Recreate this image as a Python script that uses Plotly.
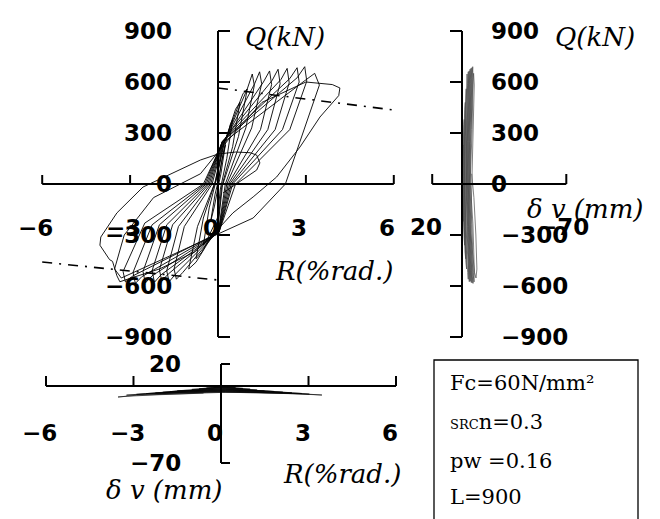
import plotly.graph_objects as go

# ---------------------------------------------------------------------------
# Loading history: drift angle R (%rad.), shear force Q (kN), axial deformation dv (mm)
# ---------------------------------------------------------------------------
R_pct = [
    0.00,
    # +-0.25
    0.12, 0.25, 0.10, 0.00, -0.12, -0.25, -0.10, 0.00,
    # +-0.5
    0.20, 0.42, 0.50, 0.30, 0.08, -0.02, -0.35, -0.50, -0.30, -0.05,
    # +-0.75
    0.20, 0.60, 0.75, 0.50, 0.12, 0.00, -0.55, -0.75, -0.50, -0.08,
    # +-1.0
    0.20, 0.85, 1.00, 0.70, 0.15, 0.00, -0.75, -1.00, -0.70, -0.10,
    # cycle 5
    0.15, 1.00, 1.17, 1.24, 0.95, 0.25, 0.02, -1.20, -1.42, -1.50, -1.15, -0.20,
    # cycle 6
    0.15, 1.25, 1.42, 1.49, 1.15, 0.30, 0.02, -1.45, -1.67, -1.75, -1.35, -0.25,
    # cycle 7
    0.15, 1.55, 1.76, 1.83, 1.45, 0.35, 0.02, -1.70, -1.92, -2.00, -1.55, -0.30,
    # cycle 8
    0.15, 1.85, 2.05, 2.12, 1.70, 0.40, 0.02, -1.95, -2.17, -2.25, -1.75, -0.35,
    # cycle 9
    0.15, 2.15, 2.36, 2.43, 1.95, 0.45, 0.03, -2.25, -2.48, -2.56, -2.00, -0.40,
    # cycle 10
    0.15, 2.45, 2.70, 2.77, 2.20, 0.50, 0.03, -2.60, -2.82, -2.90, -2.25, -0.45,
    # cycle 11
    0.15, 2.70, 2.96, 3.03, 2.45, 0.60, 0.03, -2.90, -3.16, -3.24, -2.50, -0.50,
    # cycle 12
    0.15, 2.90, 3.30, 3.46, 3.20, 2.30, 1.20, 0.05, -2.90, -3.30, -3.53, -3.20, -2.20, -0.60,
    # cycle 13 (large excursion)
    0.20, 1.50, 3.00, 3.45, 3.90, 4.16, 4.12, 3.48, 2.80, 2.00, 1.20, 0.51, 0.07,
    -0.80, -2.00, -3.00, -3.35, -3.45, -3.60, -3.70, -4.03,
    # final reloading
    -4.00, -3.45, -2.56, -1.54, -0.60, 0.00, 0.60, 1.10, 1.32, 1.43, 1.32, 0.17,
]

Q_kN = [
    0,
    130, 230, 60, -20, -130, -220, -60, 10,
    200, 350, 380, 150, -30, -200, -320, -360, -140, 30,
    230, 440, 480, 220, -20, -230, -400, -440, -200, 20,
    240, 530, 560, 280, -10, -250, -460, -500, -250, 10,
    220, 560, 647, 580, 330, 0, -270, -520, -560, -500, -250, 0,
    230, 590, 660, 590, 330, 0, -275, -530, -575, -510, -250, 0,
    240, 600, 665, 585, 320, 0, -280, -530, -570, -505, -240, 0,
    250, 610, 675, 590, 320, 0, -285, -535, -578, -510, -240, 0,
    250, 615, 680, 595, 320, 0, -285, -540, -582, -515, -240, 0,
    250, 620, 684, 600, 320, 0, -285, -545, -585, -520, -240, 0,
    250, 625, 690, 605, 320, 0, -285, -540, -576, -515, -230, 0,
    240, 600, 651, 582, 450, 0, -200, -290, -520, -553, -500, -300, -80, 60,
    230, 480, 600, 592, 585, 565, 520, 394, 218, 41, -76, -170, -253,
    -400, -500, -555, -575, -540, -455, -445, -360,
    -312, -170, -18, 65, 141, 176, 188, 184, 170, 124, 82, -53,
]

# axial deformation, recorded up to the end of cycle 12
dv_mm = [
    0.0,
    -0.4, -0.8, -0.6, -0.5, -0.6, -0.9, -0.7, -0.6,
    -0.8, -1.2, -1.5, -1.2, -1.0, -1.0, -1.4, -1.8, -1.4, -1.1,
    -1.2, -1.8, -2.2, -1.8, -1.4, -1.4, -2.0, -2.5, -2.0, -1.5,
    -1.6, -2.4, -2.8, -2.3, -1.8, -1.8, -2.6, -3.1, -2.5, -1.9,
    -2.0, -3.0, -3.4, -3.6, -3.1, -2.3, -2.2, -3.8, -4.2, -4.4, -3.8, -2.6,
    -2.6, -3.8, -4.2, -4.4, -3.8, -2.9, -2.8, -4.5, -4.9, -5.1, -4.4, -3.1,
    -3.1, -4.4, -4.8, -5.0, -4.4, -3.4, -3.3, -5.0, -5.5, -5.7, -4.9, -3.6,
    -3.6, -5.0, -5.4, -5.6, -5.0, -3.9, -3.8, -5.6, -6.1, -6.3, -5.5, -4.1,
    -4.1, -5.6, -6.0, -6.2, -5.6, -4.4, -4.3, -6.2, -6.7, -6.9, -6.1, -4.6,
    -4.6, -6.2, -6.6, -6.8, -6.2, -4.9, -4.8, -6.9, -7.4, -7.6, -6.7, -5.1,
    -5.1, -6.8, -7.2, -7.4, -6.8, -5.4, -5.3, -7.6, -8.1, -8.3, -7.3, -5.6,
    -5.6, -7.3, -7.8, -8.2, -7.9, -6.8, -6.0, -5.8, -8.4, -9.4, -10.0, -9.3, -8.0, -6.5,
]

# reference strength lines (dash-dot)
REF_R = [0, 6, None, -6, 0]
REF_Q = [565, 435, None, -459, -565]

R_TICKS = [-6, -3, 0, 3, 6]
Q_TICKS = [900, 600, 300, 0, -300, -600, -900]
DV_ENDS = [20, -70]
SPEC_LINES = ["Fc=60N/mm²", "<span style='font-size:13px'>SRC</span>n=0.3",
              "pw =0.16", "L=900"]

# ---------------------------------------------------------------------------
W, H = 660, 519
PX_R = 29.3      # px per %rad (main)
PX_R3 = 29.17    # px per %rad (bottom)
PX_Q = 0.17      # px per kN
PX_DV2 = 1.49    # px per mm (right)
PX_DV3 = 1.10    # px per mm (bottom)

n_dv = len(dv_mm)

fig = go.Figure()
# main hysteresis Q-R
fig.add_trace(go.Scatter(x=R_pct, y=Q_kN, mode="lines", xaxis="x", yaxis="y",
                         line=dict(color="black", width=0.9), hoverinfo="skip"))
fig.add_trace(go.Scatter(x=REF_R, y=REF_Q, mode="lines", xaxis="x", yaxis="y",
                         line=dict(color="black", width=1.6, dash="10px,7px,2px,7px"),
                         hoverinfo="skip"))
# Q-dv
fig.add_trace(go.Scatter(x=dv_mm, y=Q_kN[:n_dv], mode="lines", xaxis="x2", yaxis="y2",
                         line=dict(color="#4a4a4a", width=0.7), hoverinfo="skip"))
# dv-R
fig.add_trace(go.Scatter(x=R_pct[:n_dv], y=dv_mm, mode="lines", xaxis="x3", yaxis="y3",
                         line=dict(color="black", width=0.6), hoverinfo="skip"))

TICK_FONT = dict(family="DejaVu Sans", size=23, color="black", weight="bold")
ITAL_FONT = dict(family="DejaVu Serif", size=26, color="black", style="italic")
BOX_FONT = dict(family="DejaVu Serif", size=21, color="black")

shapes, annotations = [], []


def seg(xref, yref, x0, y0, x1, y1, w=2):
    shapes.append(dict(type="line", xref=xref, yref=yref, x0=x0, y0=y0, x1=x1, y1=y1,
                       line=dict(color="black", width=w)))


def label(xref, yref, x, y, text, xanchor="center", xshift=0, yshift=0, font=TICK_FONT):
    annotations.append(dict(xref=xref, yref=yref, x=x, y=y, text=text, showarrow=False,
                            xanchor=xanchor, yanchor="middle", xshift=xshift,
                            yshift=yshift, font=font))


def fmt(v):
    return str(v).replace("-", "\u2212")


# ---- main panel axes
seg("x", "y", R_TICKS[0], 0, R_TICKS[-1], 0)
seg("x", "y", 0, Q_TICKS[-1], 0, Q_TICKS[0])
for t in R_TICKS:
    if t != 0:
        seg("x", "y", t, 0, t, 9 / PX_Q)
    label("x", "y", t, 0, fmt(t), xshift=-7, yshift=-44)
for q in Q_TICKS:
    if q != 0:
        seg("x", "y", 0, q, 12 / PX_R, q)
    label("x", "y", 0, q, fmt(q), xanchor="right", xshift=-44)

# ---- right panel axes (dv horizontal, positive to the left)
seg("x2", "y2", DV_ENDS[0], 0, DV_ENDS[1], 0)
seg("x2", "y2", 0, Q_TICKS[-1], 0, Q_TICKS[0])
for d in DV_ENDS:
    seg("x2", "y2", d, 0, d, 10 / PX_Q)
label("x2", "y2", DV_ENDS[0], 0, fmt(DV_ENDS[0]), xshift=-6, yshift=-43)
label("x2", "y2", DV_ENDS[1], 0, fmt(DV_ENDS[1]), xshift=-3, yshift=-43)
for q in Q_TICKS:
    if q != 0:
        seg("x2", "y2", 0, q, 12 / PX_DV2, q)
    label("x2", "y2", 0, q, fmt(q), xanchor="left", xshift=37 if q < 0 else 27)

# ---- bottom panel axes
seg("x3", "y3", R_TICKS[0], 0, R_TICKS[-1], 0)
seg("x3", "y3", 0, DV_ENDS[1], 0, DV_ENDS[0])
for t in R_TICKS:
    if t != 0:
        seg("x3", "y3", t, 0, t, 10 / PX_DV3)
    label("x3", "y3", t, 0, fmt(t), xshift=-6, yshift=-47)
for d in DV_ENDS:
    seg("x3", "y3", 0, d, 9 / PX_R3, d)
    label("x3", "y3", 0, d, fmt(d), xanchor="right", xshift=-38)


# ---- axis titles (paper pixel positions)
def ptext(px, py, text, font, xanchor="center"):
    annotations.append(dict(xref="paper", yref="paper", x=px / W, y=1 - py / H, text=text,
                            showarrow=False, xanchor=xanchor, yanchor="middle", font=font))


ptext(285, 37, "Q(kN)", ITAL_FONT)
ptext(334, 271, "R(%rad.)", ITAL_FONT)
ptext(595, 37, "Q(kN)", ITAL_FONT)
ptext(585, 209, "δ v (mm)", ITAL_FONT)
ptext(164, 490, "δ v (mm)", ITAL_FONT)
ptext(342, 474, "R(%rad.)", ITAL_FONT)

# specimen box
shapes.append(dict(type="rect", xref="paper", yref="paper", x0=434 / W, x1=638 / W,
                   y0=-0.02, y1=1 - 360 / H, line=dict(color="black", width=1.3)))
for py, txt in zip([383, 422, 461, 497], SPEC_LINES):
    ptext(448, py, txt, BOX_FONT, xanchor="left")

hidden = dict(visible=False, showgrid=False, zeroline=False, fixedrange=True)
fig.update_layout(
    width=W, height=H, margin=dict(l=0, r=0, t=0, b=0),
    paper_bgcolor="white", plot_bgcolor="rgba(0,0,0,0)", showlegend=False,
    xaxis=dict(domain=[0, 420 / W], range=[-218 / PX_R, 202 / PX_R], anchor="y", **hidden),
    yaxis=dict(domain=[1 - 350 / H, 1], range=[-166 / PX_Q, 184 / PX_Q], anchor="x", **hidden),
    xaxis2=dict(domain=[400 / W, 1], range=[62 / PX_DV2, -198 / PX_DV2], anchor="y2", **hidden),
    yaxis2=dict(domain=[1 - 350 / H, 1], range=[-166 / PX_Q, 184 / PX_Q], anchor="x2", **hidden),
    xaxis3=dict(domain=[0, 420 / W], range=[-221 / PX_R3, 199 / PX_R3], anchor="y3", **hidden),
    yaxis3=dict(domain=[0, 1 - 350 / H], range=[-133 / PX_DV3, 36 / PX_DV3], anchor="x3", **hidden),
    shapes=shapes, annotations=annotations,
)

fig.write_html("out.html")
